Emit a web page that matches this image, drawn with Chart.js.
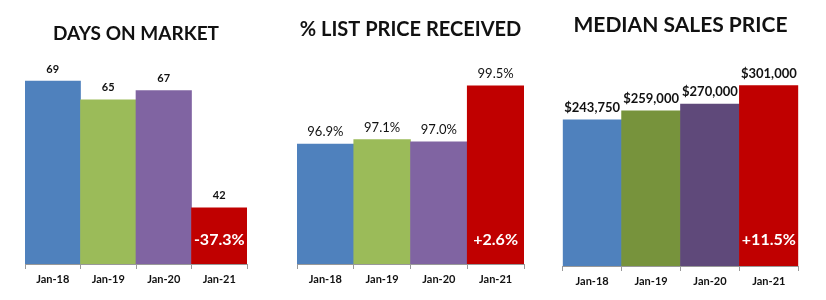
<!DOCTYPE html>
<html lang="en">

<head>
    <meta charset="UTF-8">
    <title>Market Stats</title>
    <script src="https://cdn.jsdelivr.net/npm/chart.js@4.4.0/dist/chart.umd.min.js"></script>
    <style>
        body { margin: 0; background: #fff; width: 826px; height: 300px; position: relative; overflow: hidden; }
        .box { position: absolute; top: 0; height: 300px; }
    </style>
</head>

<body>
    <div class="box" style="left:0;width:280px"><canvas id="dom"></canvas></div>
    <div class="box" style="left:280px;width:270px"><canvas id="lp"></canvas></div>
    <div class="box" style="left:550px;width:276px"><canvas id="msp"></canvas></div>

    <script>
        const months = ['Jan-18', 'Jan-19', 'Jan-20', 'Jan-21'];

        const daysOnMarket = [69, 65, 67, 42];
        const daysLabels = ['69', '65', '67', '42'];
        const daysChange = '-37.3%';

        const listPricePct = [96.9, 97.1, 97.0, 99.5];
        const listPriceLabels = ['96.9%', '97.1%', '97.0%', '99.5%'];
        const listPriceChange = '+2.6%';

        const medianPrice = [243750, 259000, 270000, 301000];
        const medianLabels = ['$243,750', '$259,000', '$270,000', '$301,000'];
        const medianChange = '+11.5%';

        const FONT = 'Lato';

        // value on top of each bar + the change figure inside the last (red) bar
        const barText = {
            id: 'barText',
            afterDatasetsDraw(chart, args, opts) {
                const ctx = chart.ctx;
                const bars = chart.getDatasetMeta(0).data;
                ctx.save();
                ctx.textAlign = 'center';
                ctx.textBaseline = 'middle';
                ctx.fillStyle = '#111';
                ctx.font = opts.valueFont;
                bars.forEach((b, i) => {
                    ctx.fillText(opts.labels[i], b.x, b.y - opts.gap);
                });
                const last = bars[bars.length - 1];
                ctx.fillStyle = '#fff';
                ctx.font = 'bold 16px ' + FONT;
                ctx.fillText(opts.change, last.x, opts.changeY);
                ctx.restore();
            }
        };

        function makeChart(id, values, colors, cfg) {
            return new Chart(document.getElementById(id), {
                type: 'bar',
                data: {
                    labels: months,
                    datasets: [{
                        data: values,
                        backgroundColor: colors,
                        barPercentage: 1,
                        categoryPercentage: 1,
                        borderWidth: 0
                    }]
                },
                options: {
                    responsive: false,
                    animation: false,
                    devicePixelRatio: 1,
                    layout: { padding: cfg.padding },
                    plugins: {
                        legend: { display: false },
                        tooltip: { enabled: false },
                        title: {
                            display: true,
                            text: cfg.title,
                            color: '#111',
                            font: { family: FONT, size: cfg.titleSize, weight: 'bold' },
                            padding: cfg.titlePad
                        },
                        barText: {
                            labels: cfg.labels,
                            change: cfg.change,
                            valueFont: cfg.valueFont,
                            gap: 12,
                            changeY: 240
                        }
                    },
                    scales: {
                        x: {
                            offset: true,
                            grid: { offset: true, drawOnChartArea: false, tickLength: 5, color: '#999' },
                            border: { color: '#999' },
                            ticks: { color: '#111', padding: 4, font: { family: FONT, size: 11, weight: 'bold' } }
                        },
                        y: { display: false, min: cfg.min, max: cfg.max }
                    }
                },
                plugins: [barText]
            });
        }

        function size(id, w) {
            const c = document.getElementById(id);
            c.width = w; c.height = 300;
            c.style.width = w + 'px'; c.style.height = '300px';
        }
        size('dom', 280); size('lp', 270); size('msp', 276);

        makeChart('dom', daysOnMarket, ['#4F81BD', '#9BBB59', '#8064A2', '#C00000'], {
            title: 'DAYS ON MARKET', titleSize: 19, titlePad: { top: 22.6, bottom: 22.6 },
            padding: { left: 25, right: 33, top: 0, bottom: 9.8 },
            min: 30, max: 71.8,
            labels: daysLabels, change: daysChange, valueFont: 'bold 11px ' + FONT
        });

        makeChart('lp', listPricePct, ['#4F81BD', '#9BBB59', '#8064A2', '#C00000'], {
            title: '% LIST PRICE RECEIVED', titleSize: 20, titlePad: { top: 17.5, bottom: 18.5 },
            padding: { left: 17, right: 26, top: 0, bottom: 9.8 },
            min: 91.54, max: 100.65,
            labels: listPriceLabels, change: listPriceChange, valueFont: '13px ' + FONT
        });

        makeChart('msp', medianPrice, ['#4F81BD', '#77933C', '#5F497A', '#C00000'], {
            title: 'MEDIAN SALES PRICE', titleSize: 21, titlePad: { top: 13, bottom: 22 },
            padding: { left: 12.7, right: 27.7, top: 0, bottom: 7.8 },
            min: 0, max: 343333,
            labels: medianLabels, change: medianChange, valueFont: 'bold 13px ' + FONT
        });
    </script>

</body>

</html>
